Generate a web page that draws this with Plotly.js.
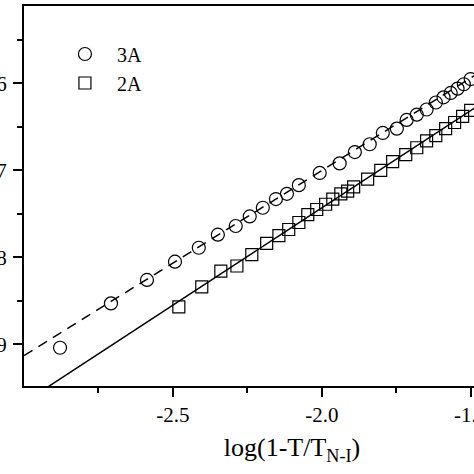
<!DOCTYPE html>
<html>
<head>
<meta charset="utf-8">
<script src="https://cdn.plot.ly/plotly-3.0.1.min.js"></script>
<style>
  html, body { margin: 0; padding: 0; overflow: hidden; background: #fff; width: 474px; height: 474px; }
  #chart { position: absolute; left: -56px; top: 0; }
</style>
</head>
<body>
<div id="chart"></div>
<script>
// ---- data ----
var x3A = [-2.879, -2.708, -2.587, -2.493, -2.413, -2.349, -2.289, -2.242, -2.198, -2.154,
           -2.117, -2.077, -2.007, -1.940, -1.889, -1.839, -1.795, -1.748, -1.715, -1.681,
           -1.648, -1.617, -1.591, -1.567, -1.544, -1.523, -1.500];
var y3A = [-0.904, -0.853, -0.826, -0.805, -0.789, -0.774, -0.764, -0.753, -0.743, -0.733,
           -0.727, -0.717, -0.703, -0.692, -0.679, -0.670, -0.657, -0.652, -0.642, -0.636,
           -0.630, -0.622, -0.616, -0.611, -0.606, -0.601, -0.595];
var x2A = [-2.480, -2.403, -2.339, -2.285, -2.235, -2.185, -2.144, -2.111, -2.077, -2.047,
           -2.017, -1.987, -1.963, -1.936, -1.913, -1.893, -1.846, -1.802, -1.762, -1.718,
           -1.681, -1.648, -1.617, -1.584, -1.554, -1.527, -1.500];
var y2A = [-0.857, -0.834, -0.816, -0.810, -0.797, -0.784, -0.775, -0.768, -0.760, -0.751,
           -0.745, -0.739, -0.733, -0.727, -0.724, -0.719, -0.710, -0.700, -0.690, -0.682,
           -0.674, -0.666, -0.660, -0.652, -0.645, -0.638, -0.631];
// fitted straight lines (end points)
var fitX = [-3.0, -1.2];
var fit3A = [-0.913, -0.530];
var fit2A = [-0.967, -0.564];
// tick labels
var xTickVals = [-2.5, -2.0, -1.5, -1.0];
var xTickText = ['-2.5', '-2.0', '-1.5', '-1.0'];
var yTickVals = [-0.6, -0.7, -0.8, -0.9];
var yTickText = ['-0.6', '-0.7', '-0.8', '-0.9'];
var xMinor = [-2.75, -2.25, -1.75, -1.25];
var yMinor = [-0.55, -0.65, -0.75, -0.85];

var serif = 'Liberation Serif, Times New Roman, serif';

var traces = [
  { x: fitX, y: fit3A, mode: 'lines', showlegend: false, hoverinfo: 'skip',
    line: { color: '#000', width: 1.5, dash: '10px,7px' } },
  { x: fitX, y: fit2A, mode: 'lines', showlegend: false, hoverinfo: 'skip',
    line: { color: '#000', width: 1.5 } },
  { x: x3A, y: y3A, mode: 'markers', name: '3A', legendgroup: 'a',
    marker: { symbol: 'circle-open', size: 13, color: '#000', line: { width: 1.2, color: '#000' } } },
  { x: x2A, y: y2A, mode: 'markers', name: '2A', legendgroup: 'b',
    marker: { symbol: 'square-open', size: 12, color: '#000', line: { width: 1.2, color: '#000' } } }
];

var axisCommon = {
  showgrid: false, zeroline: false, showline: true, linecolor: '#000', linewidth: 2,
  mirror: true, ticks: 'outside', ticklen: 9, tickwidth: 2, tickcolor: '#000',
  tickfont: { family: serif, size: 21, color: '#000' }, tickmode: 'array'
};

var layout = {
  width: 626, height: 474,
  margin: { l: 80, r: 10, t: 4, b: 88 },
  paper_bgcolor: '#fff', plot_bgcolor: '#fff',
  showlegend: true,
  legend: { x: 0.054, y: 0.925, xanchor: 'left', yanchor: 'top', bgcolor: 'rgba(0,0,0,0)',
            font: { family: serif, size: 20, color: '#000' }, itemwidth: 54,
            traceorder: 'grouped', tracegroupgap: 0 },
  xaxis: Object.assign({}, axisCommon, {
    range: [-3.0, -1.2], tickvals: xTickVals, ticktext: xTickText, ticklabelstandoff: 0,
    minor: { tickmode: 'array', tickvals: xMinor, ticks: 'outside', ticklen: 5, tickwidth: 2, tickcolor: '#000' },
    automargin: true,
    title: { text: 'log(1-T/T<sub>N-I</sub>)', standoff: 12, font: { family: serif, size: 26, color: '#000' } }
  }),
  yaxis: Object.assign({}, axisCommon, {
    range: [-0.948, -0.511], tickvals: yTickVals, ticktext: yTickText, ticklabelstandoff: 2,
    minor: { tickmode: 'array', tickvals: yMinor, ticks: 'outside', ticklen: 5, tickwidth: 2, tickcolor: '#000' }
  })
};

Plotly.newPlot('chart', traces, layout, { staticPlot: true, displayModeBar: false });
</script>
</body>
</html>
